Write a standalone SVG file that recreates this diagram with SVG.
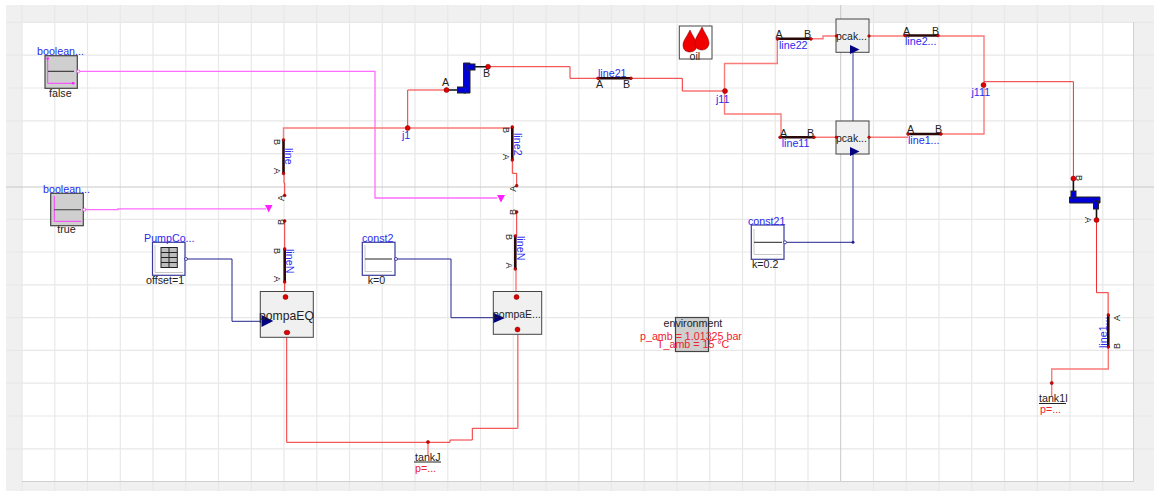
<svg xmlns="http://www.w3.org/2000/svg" width="1154" height="491" viewBox="0 0 1154 491">
<defs>
<style>
text{font-family:"Liberation Sans","DejaVu Sans",sans-serif;font-size:10.700px;fill:#222}
.n{fill:#2a2af0}
.r{fill:#f02030}
.s{font-size:9px}
.gl{stroke:#e8e8e8;stroke-width:1.2;fill:none}
.w{fill:none;stroke:#f03030;stroke-width:1}
.wl{fill:none;stroke:#fb7a7a;stroke-width:1.4}
.b{fill:none;stroke:#23238e;stroke-width:1}
.bl{fill:none;stroke:#7a7ac0;stroke-width:1.5}
.m{fill:none;stroke:#ff6cff;stroke-width:1.3}
.pt{fill:#e00000;stroke:#7a0000;stroke-width:.5}
.pipe{stroke:#2a0808;stroke-width:2.6;fill:none}
.blk{fill:#cfcfcf;stroke:#444;stroke-width:1.2}
.src{fill:#fff;stroke:#3b3b9a;stroke-width:1.2}
.pmp{fill:#f0f0f0;stroke:#444;stroke-width:1}
.ax{stroke:#c8c8c8;stroke-width:1;fill:none}
.mx{stroke:#ff3cff;stroke-width:1;fill:none}
.ln{stroke:#222;stroke-width:1;fill:none}
.bk{stroke:#111;stroke-width:1.6;fill:none}
.vb{fill:#0000d8;stroke:#222;stroke-width:1}
.po{fill:#fff;stroke:#ff3cff;stroke-width:.8}
.bo{fill:#fff;stroke:#23238e;stroke-width:.8}
.ar{fill:#000080}
.am{fill:#ff1cff}
</style>
</defs>
<rect width="1154" height="491" fill="#fff"/>
<rect x="6" y="5" width="1148" height="486" fill="#f0f0f0"/>
<rect x="22" y="22" width="1111" height="459" fill="#fff"/>
<path class="gl" d="M22 5V491M54.800 5V491M87.500 5V491M120.300 5V491M153 5V491M185.800 5V491M218.500 5V491M251.300 5V491M284 5V491M316.800 5V491M349.500 5V491M382.300 5V491M415 5V491M447.800 5V491M480.500 5V491M513.300 5V491M546 5V491M578.800 5V491M611.500 5V491M644.300 5V491M677 5V491M709.800 5V491M742.500 5V491M775.300 5V491M808 5V491M873.500 5V491M906.300 5V491M939 5V491M971.800 5V491M1004.500 5V491M1037.300 5V491M1070 5V491M1102.800 5V491"/>
<path class="gl" d="M6 22.300H1154M6 55.200H1154M6 88H1154M6 120.800H1154M6 153.600H1154M6 219.300H1154M6 252H1154M6 284.800H1154M6 317.600H1154M6 350.400H1154M6 383.200H1154M6 416H1154M6 448.800H1154"/>
<path d="M6 187H1154M840.700 5V481" stroke="#c8c8c8" stroke-width="1" fill="none"/>
<path d="M22 481.500H1133.500V22" stroke="#d0d0d0" stroke-width="1" fill="none"/>

<g id="connectors">
<path class="m" d="M78 71.300H375V198H497"/>
<path class="m" stroke-width="1.800" d="M85 209.700H118V208.800H266"/>
<path class="wl" d="M283.500 140V128H512"/>
<path class="w" d="M407.700 128V90H446"/>
<path class="w" d="M488 66.700H570V78.300H598M631 78.300H682.300V91H725"/>
<path class="w" d="M284 174V183H284.700V195.500M284.700 221V249"/>
<path class="w" d="M512.300 160V173.300H516.700V185.700M516.700 212V236"/>
<path class="wl" d="M724.500 91V63.500H777.300V39M724.500 91V114H781V137.300"/>
<path class="wl" d="M811 38.700H823V36H836M869 36H905M869 137.300H908M814 137.300H836"/>
<path class="wl" d="M938 36H984V134H941"/>
<path class="w" d="M984 81.700H1073.400V178"/>
<path class="w" d="M1096.500 220V292.700H1108.300V315"/>
<path class="wl" d="M1108.300 292.700V315M1108.300 347V369H1051.700V397"/>
<path class="w" d="M284.700 282V297M286.700 332V442.300H428H450V440H472.300V428.300H517.700V332"/>
<path class="wl" d="M516 269V297M517.700 428.300V332M428 442V456"/>
<path class="b" d="M186 259H232V321.300H262"/>
<path class="b" d="M396 259H451V317.700H495"/>
<path class="b" d="M786 242.300H853"/>
<path class="bl" d="M853 242.300V52"/>
<circle cx="853" cy="242.300" r="1.500" fill="#23238e"/>
<path class="am" d="M265 205H272.500L268.700 212.500Z"/>
<path class="am" d="M497 195H505L501 202.500Z"/>
</g>

<g id="booleanFalse">
<rect class="blk" x="45" y="55.700" width="32.300" height="32.600"/>
<path class="mx" d="M47.700 58V83.300H75"/><path class="ln" d="M48 71.300H74"/>
<circle cx="73" cy="83.300" r="1.300" class="am"/><circle cx="47.700" cy="58.500" r="1.300" class="am"/>
<circle cx="78.300" cy="71.300" r="1.500" class="po"/>
<text x="37" y="55" class="n">boolean...</text>
<text x="49" y="96.500">false</text>
</g>
<g id="booleanTrue">
<rect class="blk" x="50.700" y="193.300" width="32.600" height="32.400"/>
<path class="mx" d="M54.300 196V221.300H81"/><path d="M54 209.700H81" stroke="#555" stroke-width="1.200" fill="none"/>
<circle cx="84.300" cy="209.700" r="1.500" class="po"/>
<text x="43" y="193" class="n">boolean...</text>
<text x="57.300" y="233">true</text>
</g>
<g id="PumpCo">
<rect class="src" x="152.500" y="242.300" width="32.500" height="33"/>
<path d="M155 245V272.500H183" class="ax"/>
<rect x="161" y="247.500" width="16.300" height="20" fill="#bdbdbd" stroke="#222"/>
<path d="M169 247.500V267.500M161 252.500H177M161 257.500H177M161 262.500H177" stroke="#222" fill="none"/>
<circle cx="186" cy="259" r="1.500" class="bo"/>
<text x="144" y="242" class="n">PumpCo...</text>
<text x="146" y="284">offset=1</text>
</g>
<g id="const2">
<rect class="src" x="362.300" y="242.300" width="32.700" height="33"/>
<path d="M365 245V271.500H392" class="ax"/><path class="ln" d="M365 259H392"/>
<circle cx="396" cy="259" r="1.500" class="bo"/>
<text x="362" y="242" class="n">const2</text>
<text x="367.700" y="284">k=0</text>
</g>
<g id="const21">
<rect class="src" x="751.300" y="225" width="32.700" height="34.300"/>
<path d="M754 229V254.500H782" class="ax"/><path class="ln" d="M754 242.300H782"/>
<circle cx="785" cy="242.300" r="1.500" class="bo"/>
<text x="748" y="225" class="n">const21</text>
<text x="752" y="268">k=0.2</text>
</g>
<g id="pompaEQ">
<rect class="pmp" x="260.300" y="291.500" width="53" height="45.800"/>
<path class="ar" d="M261.500 315V327L273.300 321Z"/>
<circle class="pt" cx="285.500" cy="297" r="2.500"/><ellipse class="pt" cx="287" cy="332.500" rx="2.800" ry="2.300"/>
<text x="259" y="320" style="font-size:12.200px">pompaEQ</text>
</g>
<g id="pompaE">
<rect class="pmp" x="493.300" y="291.500" width="48.400" height="42.800"/>
<path class="ar" d="M493.500 313V323L505 318Z"/>
<circle class="pt" cx="516.500" cy="297" r="2.500"/><circle class="pt" cx="517.500" cy="329.500" r="2.500"/>
<text x="493" y="317.500" style="font-size:10.500px">pompaE...</text>
</g>
<g id="pcak2">
<rect class="pmp" x="836" y="19" width="33" height="33.300"/>
<text x="836" y="40" style="font-size:10.500px">pcak...</text>
<path class="ar" d="M850 45V54L859.500 49.500Z"/>
<circle class="pt" cx="836.500" cy="36" r="1.300"/><circle class="pt" cx="869" cy="36" r="1.300"/>
</g>
<g id="pcak1">
<rect class="pmp" x="836" y="121" width="33" height="33"/>
<text x="836" y="142" style="font-size:10.500px">pcak...</text>
<path class="ar" d="M850 147V156L859.500 151.500Z"/>
<circle class="pt" cx="836.500" cy="137.300" r="1.300"/><circle class="pt" cx="869" cy="137.300" r="1.300"/>
</g>
<g id="oil">
<rect x="679.300" y="26" width="32.700" height="33" fill="#fff" stroke="#444"/>
<path d="M690 30C686 38 683 41 683 45C683 50 686 52 690 52C694 52 697 49 697 45C697 41 693 37 690 30Z" fill="#f00000" stroke="#700" stroke-width=".5"/>
<path d="M702 27C698 35 695 38 695 43C695 48 698 50 702 50C706 50 709 47 709 43C709 38 705 34 702 27Z" fill="#f00000" stroke="#700" stroke-width=".5"/>
<text x="689.500" y="60">oil</text>
</g>
<g id="valve1">
<path class="bk" d="M446 90H458M488 66.700H475"/>
<path class="vb" d="M463.500 63H470V93H463.500Z"/>
<rect class="vb" x="457.500" y="87" width="8" height="6"/><rect class="vb" x="467" y="64" width="8" height="6"/>
<circle class="pt" cx="446.500" cy="90" r="2.500"/><circle class="pt" cx="488" cy="66.700" r="2.500"/>
<text x="442" y="85.700">A</text><text x="483" y="77">B</text>
</g>
<g id="valve2">
<path class="bk" d="M1073.400 178V192M1096.500 208V220"/>
<path class="vb" d="M1069.500 197H1100V203H1069.500Z"/>
<rect class="vb" x="1071" y="191" width="5" height="7"/><rect class="vb" x="1093.500" y="201" width="5" height="8"/>
<circle class="pt" cx="1073.400" cy="178.500" r="2.500"/><circle class="pt" cx="1096.500" cy="220" r="2.500"/>
<text class="s" transform="translate(1076 178) rotate(90)" text-anchor="middle">B</text>
<text class="s" transform="translate(1085 220) rotate(90)" text-anchor="middle">A</text>
</g>

<g id="line"><path class="pipe" d="M283.500 140V173.500"/><circle class="pt" cx="283.500" cy="140" r="1.400"/><circle class="pt" cx="283.500" cy="173.500" r="1.400"/>
<text class="s" transform="translate(273.500 142) rotate(90)" text-anchor="middle">B</text><text class="s" transform="translate(273.500 171) rotate(90)" text-anchor="middle">A</text>
<text transform="translate(285 148) rotate(90)" class="n">line</text></g>
<g id="line2"><path class="pipe" d="M512.300 127V160"/><circle class="pt" cx="512.300" cy="127" r="1.400"/><circle class="pt" cx="512.300" cy="160" r="1.400"/>
<text class="s" transform="translate(502.500 130) rotate(90)" text-anchor="middle">B</text><text class="s" transform="translate(502.500 157) rotate(90)" text-anchor="middle">A</text>
<text transform="translate(513.500 133) rotate(90)" class="n">line2</text></g>
<g id="lineNa"><path class="pipe" d="M284.700 249V282"/><circle class="pt" cx="284.700" cy="249" r="1.400"/><circle class="pt" cx="284.700" cy="282" r="1.400"/>
<text class="s" transform="translate(273.500 251) rotate(90)" text-anchor="middle">B</text><text class="s" transform="translate(273.500 279) rotate(90)" text-anchor="middle">A</text>
<text transform="translate(286 249) rotate(90)" class="n">lineN</text></g>
<g id="lineNb"><path class="pipe" d="M515.300 236V269"/><circle class="pt" cx="515.300" cy="236" r="1.400"/><circle class="pt" cx="515.300" cy="269" r="1.400"/>
<text class="s" transform="translate(506 237) rotate(90)" text-anchor="middle">B</text><text class="s" transform="translate(506 265.500) rotate(90)" text-anchor="middle">A</text>
<text transform="translate(517 236) rotate(90)" class="n">lineN</text></g>
<g id="sw1"><circle class="pt" cx="284.700" cy="195.500" r="1.400"/><circle class="pt" cx="284.700" cy="221" r="1.400"/>
<text class="s" transform="translate(284 198) rotate(-90)" text-anchor="middle">A</text><text class="s" transform="translate(284 222) rotate(-90)" text-anchor="middle">B</text></g>
<g id="sw2"><circle class="pt" cx="516.700" cy="185.700" r="1.400"/><circle class="pt" cx="516.700" cy="212" r="1.400"/>
<text class="s" transform="translate(516 188.700) rotate(-90)" text-anchor="middle">A</text><text class="s" transform="translate(516 212) rotate(-90)" text-anchor="middle">B</text></g>
<g id="line21"><path class="pipe" d="M598 78.300H631"/><circle class="pt" cx="598" cy="78.300" r="1.400"/><circle class="pt" cx="631" cy="78.300" r="1.400"/>
<text x="598" y="76.500" class="n">line21</text><text x="596" y="88">A</text><text x="623" y="88">B</text></g>
<g id="line22"><path class="pipe" d="M777.300 38.700H811"/><circle class="pt" cx="777.500" cy="39" r="1.400"/><circle class="pt" cx="811" cy="39" r="1.400"/>
<text x="775.500" y="38">A</text><text x="804" y="38">B</text><text x="779" y="49" class="n">line22</text></g>
<g id="line11"><path class="pipe" d="M780 137.300H814"/><circle class="pt" cx="780" cy="137.300" r="1.400"/><circle class="pt" cx="814" cy="137.300" r="1.400"/>
<text x="780" y="136.500">A</text><text x="807" y="136.500">B</text><text x="781.700" y="147" class="n">line11</text></g>
<g id="line2x"><path class="pipe" d="M905 35.500H938"/><circle class="pt" cx="905" cy="35.500" r="1.400"/><circle class="pt" cx="938" cy="35.500" r="1.400"/>
<text x="903" y="35">A</text><text x="932" y="35">B</text><text x="905" y="45" class="n">line2...</text></g>
<g id="line1x"><path class="pipe" d="M908 134H941"/><circle class="pt" cx="908" cy="134" r="1.400"/><circle class="pt" cx="941" cy="134" r="1.400"/>
<text x="907" y="133">A</text><text x="935" y="133">B</text><text x="908" y="144" class="n">line1...</text></g>
<g id="line1b"><path class="pipe" d="M1108.300 315V347"/><circle class="pt" cx="1108.300" cy="315" r="1.400"/><circle class="pt" cx="1108.300" cy="347" r="1.400"/>
<text class="s" transform="translate(1120 318) rotate(-90)" text-anchor="middle">A</text><text class="s" transform="translate(1120 346) rotate(-90)" text-anchor="middle">B</text>
<text transform="translate(1107 348) rotate(-90)" class="n">line1...</text></g>
<g id="j1"><circle class="pt" cx="407.700" cy="128" r="2.500"/><text x="402" y="139" class="n">j1</text></g>
<g id="j11"><circle class="pt" cx="725" cy="91" r="2.500"/><text x="716" y="103" class="n">j11</text></g>
<g id="j111"><circle class="pt" cx="983.500" cy="85" r="2.500"/><text x="971.500" y="96" class="n">j111</text></g>
<g id="tankJ"><circle class="pt" cx="428" cy="442" r="1.600"/><path class="ln" d="M414 462H441"/><text x="415" y="461">tankJ</text><text x="415" y="472" class="r">p=...</text></g>
<g id="tank1"><circle class="pt" cx="1051.700" cy="383" r="1.600"/><path class="ln" d="M1039 403.500H1066"/><text x="1039" y="402">tank1l</text><text x="1040" y="413" class="r">p=...</text></g>
<g id="environment">
<rect class="blk" x="675.500" y="317.500" width="33" height="34"/>
<text x="663.500" y="327">environment</text>
<text x="640" y="340" class="r">p_amb = 1.01325 bar</text>
<text x="657" y="348" class="r">T_amb = 15 °C</text>
</g>
</svg>
